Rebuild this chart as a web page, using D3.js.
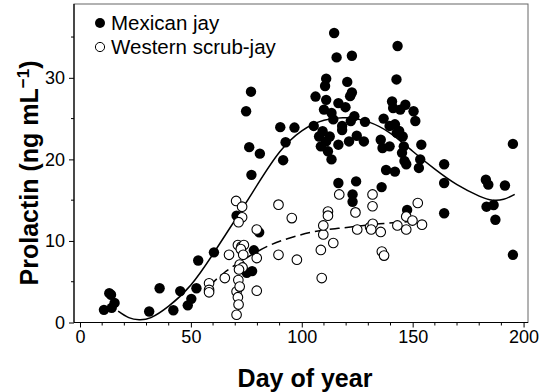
<!DOCTYPE html>
<html><head><meta charset="utf-8">
<script src="https://cdn.jsdelivr.net/npm/d3@7"></script>
<style>body{margin:0;background:#fff}svg{display:block}text{font-family:"Liberation Sans",Arial,sans-serif}</style>
</head><body>
<script>
// Mexican jay (filled)
const mexDay = [10.8,13.2,14.0,15.6,14.3,31.2,35.9,42.1,45.2,48.6,50.2,52.5,53.3,60.4,70.6,74.9,77.1,76.3,77.3,81.1,80.8,78.4,77.6,75.2,
 90.3,92.7,91.6,96.7,106.2,105.4,
 111,110.5,114.6,115.7,122.6,120.5,122.6,121.8,116.5,111,110,113.4,119.7,114.2,118.2,123.7,122.1,107.8,108.6,111,111.8,113.4,109.4,112.6,116.5,118.2,121.3,124.8,128,128.5,116.5,124.5,122.9,122.9,
 143.2,142.7,140.7,141.2,144.4,146.7,150.4,151.2,136.9,139.6,142,143.9,145.5,146,145.2,146.3,147.1,135.6,136.4,139.6,138,142,142.8,153.9,153.4,152.8,136,147.5,
 164.2,164.2,164.2,183,184.1,183.3,186.5,187.3,191.6,195.2,195.2];
const mexPrl = [1.55,3.6,3.4,2.4,1.8,1.35,4.2,1.5,3.85,2.1,2.9,4.2,7.6,8.6,13.1,25.9,28.3,21.5,18.1,20.7,11.05,8.85,6.3,6.1,
 23.95,22.1,19.9,23.9,27.7,24.1,
 29.9,29.0,35.5,32.5,32.7,29.5,28.2,27.75,26.9,27.3,26.1,25.7,26.4,24.9,24.1,25.3,24.7,22.8,21.6,22.2,21.0,20.0,23.45,22.8,21.8,23.6,22.2,22.9,22.2,24.6,17.1,17.3,15.7,14.8,
 33.9,29.8,27.1,26.3,26.1,26.7,25.9,24.7,25.0,24.1,24.3,23.5,22.8,21.6,20.8,19.8,19.4,22.4,21.4,21.6,18.7,18.5,23.25,21.8,20.0,18.95,16.6,13.8,
 19.4,17.1,13.4,17.5,16.9,14.2,14.4,12.6,16.8,21.9,8.3];
// Western scrub-jay (open)
const wsjDay = [58.2,58.2,58.2,65.3,67.2,70.4,73.1,73.1,71.5,71.2,72.8,73.9,72.5,73.6,72,73.3,71.7,71.4,70.6,71.2,71.5,70.6,72,
 79.7,79.7,79.7,89.5,89.5,95.5,97.8,109,108.6,109.7,109.7,111.8,111.8,114.2,116.9,124.2,125,130.8,131.9,131.9,132,131.3,135.6,136.1,137.1,143.1,147.1,147.1,149.9,152.3,154.2];
const wsjPrl = [4.8,4.0,3.7,5.45,8.3,14.9,14.2,12.9,12.3,9.5,9.3,9.5,9.0,8.3,7.1,6.75,6.5,5.2,3.8,3.1,2.2,0.95,4.4,
 11.4,7.9,3.9,14.45,8.3,12.8,7.7,5.45,8.9,10.8,11.9,13.6,13.1,9.75,15.7,13.5,11.4,11.7,15.7,14.25,12.1,11.4,11.1,8.7,8.2,11.9,13.0,11.4,12.5,14.65,12.0];
// fitted curves
const fitMexDay = [17.2,22,26.7,32,40,50,60,70,80,90,100,110,120,130,140,150,160,170,180,186,191,196];
const fitMexPrl = [1.4,0.6,0.33,0.6,2.0,4.6,8.4,12.6,16.9,20.9,23.5,24.8,25.1,24.6,23.2,21.0,18.8,16.9,15.5,15.0,15.1,15.7];
const fitWsjDay = [58.5,65,75,85,95,105,115,125,135,145,152];
const fitWsjPrl = [4.5,6.1,7.9,9.4,10.4,11.1,11.5,11.8,12.1,12.3,12.5];
const xTicks = [0,50,100,150,200];
const yTicks = [0,10,20,30];
const legendLabels = ["Mexican jay","Western scrub-jay"];

const W=548,H=392;
const svg=d3.select("body").append("svg").attr("width",W).attr("height",H);
const x=d3.scaleLinear().domain([-2.7,202]).range([74,528]);
const y=d3.scaleLinear().domain([0,39.05]).range([322.5,4]);

// frame
svg.append("rect").attr("x",74).attr("y",4).attr("width",454).attr("height",318.5)
  .attr("fill","none").attr("stroke","#666").attr("stroke-width",1);

// axes
const xAxis=d3.axisBottom(x).tickValues(xTicks).tickSize(5).tickPadding(3).tickFormat(d3.format("d"));
const gx=svg.append("g").attr("transform","translate(0,322.5)").call(xAxis);
gx.append("g").selectAll("line").data(d3.range(10,200,10).filter(d=>d%50)).join("line")
  .attr("x1",d=>x(d)).attr("x2",d=>x(d)).attr("y1",0).attr("y2",3).attr("stroke","#000");
const yAxis=d3.axisLeft(y).tickValues(yTicks).tickSize(5).tickPadding(4);
const gy=svg.append("g").attr("transform","translate(74,0)").call(yAxis);
gy.append("g").selectAll("line").data([5,15,25,35]).join("line")
  .attr("y1",d=>y(d)).attr("y2",d=>y(d)).attr("x1",0).attr("x2",-3).attr("stroke","#000");
[gx,gy].forEach(g=>{g.select(".domain").attr("stroke","#000").attr("stroke-width",1.2);
  g.selectAll("text").attr("font-size",18).attr("fill","#000").style("font-family","'Liberation Sans',Arial,sans-serif");});
gx.select(".domain").attr("d",`M74,0H528`);
gy.select(".domain").attr("d",`M0,322.5V4`);

// curves
const line=d3.line().x(d=>x(d[0])).y(d=>y(d[1])).curve(d3.curveNatural);
svg.append("path").datum(d3.zip(fitMexDay,fitMexPrl)).attr("d",line)
  .attr("fill","none").attr("stroke","#000").attr("stroke-width",1.5);
svg.append("path").datum(d3.zip(fitWsjDay,fitWsjPrl)).attr("d",line)
  .attr("fill","none").attr("stroke","#000").attr("stroke-width",1.5).attr("stroke-dasharray","10,5");

// points
svg.append("g").selectAll("circle").data(d3.zip(mexDay,mexPrl)).join("circle")
  .attr("cx",d=>x(d[0])).attr("cy",d=>y(d[1])).attr("r",5.2).attr("fill","#000");
svg.append("g").selectAll("circle").data(d3.zip(wsjDay,wsjPrl)).join("circle")
  .attr("cx",d=>x(d[0])).attr("cy",d=>y(d[1])).attr("r",4.8).attr("fill","#fff").attr("stroke","#000").attr("stroke-width",1.1);

// legend
const lg=svg.append("g");
lg.append("circle").attr("cx",100).attr("cy",23).attr("r",5).attr("fill","#000");
lg.append("circle").attr("cx",100).attr("cy",47).attr("r",4.6).attr("fill","#fff").attr("stroke","#000").attr("stroke-width",1);
lg.selectAll("text").data(legendLabels).join("text").attr("x",111).attr("y",(d,i)=>30+i*24)
  .attr("font-size",20.5).text(d=>d);

// titles
svg.append("text").attr("x",305).attr("y",387).attr("text-anchor","middle")
  .attr("font-size",25).attr("font-weight","bold").text("Day of year");
const yt=svg.append("text").attr("transform","translate(38,173) rotate(-90)").attr("text-anchor","middle")
  .attr("font-size",25).attr("font-weight","bold");
yt.append("tspan").text("Prolactin (ng mL");
yt.append("tspan").attr("font-size",17).attr("dy",-9).text("−1");
yt.append("tspan").attr("dy",9).text(")");
</script>
</body></html>
